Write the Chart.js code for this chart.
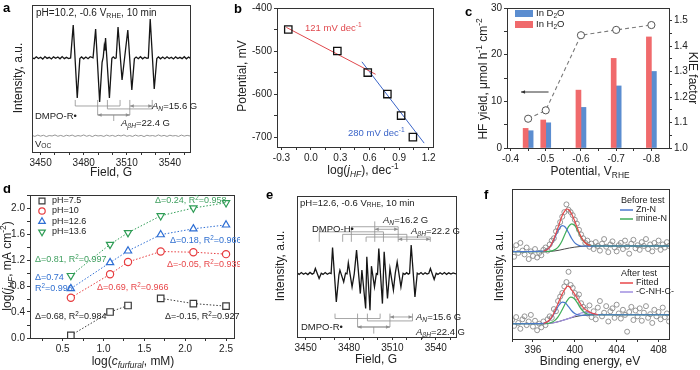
<!DOCTYPE html>
<html>
<head>
<meta charset="utf-8">
<script src="https://cdn.jsdelivr.net/npm/chart.js@4.4.1/dist/chart.umd.min.js"></script>
<style>
  html, body { margin: 0; padding: 0; background: #fff; }
  #fig { position: relative; width: 700px; height: 370px; overflow: hidden; }
  canvas { position: absolute; }
</style>
</head>
<body>
<div id="fig"></div>
<script>
// ---- panel a: EPR, pH 10.2 ----
const specA = [[3444,64.3],[3445.5,63.4],[3447,64.8],[3448.5,63.6],[3450,64.5],[3451.5,63.2],[3453,64.9],[3454.5,63.7],[3456,64.4],[3457.5,63.3],[3459,64.7],[3460.5,63.8],[3462,64.6],[3463.5,63.4],[3465,64.9],[3466.5,63.5],[3468,64.4],[3469.5,63.6],[3470.9,64],
  [3472.7,86.4],[3475.5,36.7],[3477.3,63.5],
  [3478.5,64.7],[3480,63.4],[3481.5,64.6],[3483,63.5],[3484.5,64.8],[3486.5,64],
  [3488.3,83.7],[3491.1,34],[3492.8,61],[3493.6,64.5],[3494.3,72],[3494.8,69],[3495.2,77.6],[3497.9,36.7],[3499.6,63.8],
  [3500.6,64.7],[3501.8,63.6],[3502.6,64],
  [3503.9,85],[3506.7,49],[3510.7,83],[3513.5,42.2],[3515.3,63.6],
  [3516.5,64.6],[3518,63.5],[3519.5,64.8],[3521,63.4],[3522.5,64.5],[3524,63.7],[3525,64],
  [3526.3,90.5],[3529.1,42.9],[3530.9,63.6],
  [3532,64.7],[3533.5,63.4],[3535,64.6],[3536.5,63.5],[3538,64.8],[3539.5,63.6],[3541,64.5],[3542.5,63.3],[3544,64.7],[3545.5,63.6],[3547,64.4],[3548.5,63.5],[3550,64.8],[3551.5,63.4],[3553,64.6],[3554,63.8]];
const vocA = [[3444,11.3],[3446,10.6],[3448,11.5],[3450,10.8],[3452,11.4],[3454,10.5],[3456,11.2],[3458,10.9],[3460,11.6],[3462,10.7],[3464,11.3],[3466,10.6],[3468,11.4],[3470,10.9],[3472,11.5],[3474,10.6],[3476,11.2],[3478,10.8],[3480,11.6],[3482,10.7],[3484,11.3],[3486,10.5],[3488,11.4],[3490,10.9],[3492,11.2],[3494,10.6],[3496,11.5],[3498,10.8],[3500,11.3],[3502,10.6],[3504,11.4],[3506,10.9],[3508,11.6],[3510,10.7],[3512,11.2],[3514,10.6],[3516,11.5],[3518,10.8],[3520,11.3],[3522,10.5],[3524,11.4],[3526,10.9],[3528,11.2],[3530,10.7],[3532,11.6],[3534,10.8],[3536,11.3],[3538,10.6],[3540,11.4],[3542,10.9],[3544,11.2],[3546,10.6],[3548,11.5],[3550,10.8],[3552,11.3],[3554,10.9]];
const hfsA = { c: 3500.9, aN: 15.6, aH: 22.4 };

// ---- panel b: Tafel ----
const bLogJ = [-0.23, 0.27, 0.58, 0.78, 0.92, 1.04];
const bPot = [-450, -500, -550, -600, -650, -700];
const bFitLowX = [-0.25, 0.66], bFitLowY = [-445, -554];
const bFitHighX = [0.52, 1.155], bFitHighY = [-525, -714];

// ---- panel c: KIE ----
const cPot = [-0.45, -0.5, -0.6, -0.7, -0.8];
const cH2O = [4.2, 6.0, 12.4, 19.2, 23.8];
const cD2O = [3.7, 5.4, 8.7, 13.3, 16.4];
const cKIE = [1.115, 1.148, 1.443, 1.464, 1.483];

// ---- panel d: reaction order ----
const dLogC = [0.6, 1.08, 1.3, 1.7, 2.1, 2.5];
const dPH75 = [0.04, 0.40, 0.50, 0.61, 0.53, 0.49];
const dPH10 = [0.62, 0.98, 1.17, 1.33, 1.32, 1.29];
const dPH126 = [0.76, 1.16, 1.34, 1.59, 1.68, 1.74];
const dPH136 = [0.96, 1.44, 1.62, 1.88, 2.00, 2.08];
const dLabels = ['pH=7.5', 'pH=10', 'pH=12.6', 'pH=13.6'];

// ---- panel e: EPR, pH 12.6 ----
const specE = [[3444,45.5],[3445.5,44.4],[3447,45.7],[3448.5,44.5],[3450,45.4],[3451.5,44.3],[3453,45.8],[3454.5,44.6],[3455.6,45.2],
  [3456.7,48.6],[3459.3,41.5],[3460.8,45.2],
  [3462,44.4],[3463.5,45.7],[3465,44.5],[3466.5,45.4],[3467.6,45],
  [3468.6,63.5],[3471.2,24.9],[3473,44],
  [3473.7,47.4],[3476.3,39.1],[3477.6,45.3],[3478.6,44.8],
  [3479.5,52.6],[3482.1,35.5],[3483.6,44.8],
  [3485.2,61.6],[3487.8,30.8],
  [3488.9,47.4],[3491.5,20.2],
  [3492.3,56.9],[3494.5,19],
  [3495.5,50.2],[3497.6,35.5],[3498.9,45],[3499.7,44.5],
  [3500.6,62.8],[3503.1,23.7],
  [3504.3,60.4],[3506.6,27.3],
  [3508.3,48.6],[3510.7,33.2],[3512,45.3],
  [3513.3,53.3],[3515.9,35.5],[3517.4,45.2],
  [3518.6,44.4],[3519.8,45.6],[3521,44.6],[3521.9,45.2],
  [3523,65.2],[3525.6,28.4],[3527.2,45.3],
  [3528.4,44.5],[3529.8,45.7],[3531.2,44.4],[3532.6,45.6],[3534,44.6],[3535.2,45.2],
  [3536.3,48.6],[3538.9,40.8],[3540.3,45.2],
  [3541.5,44.4],[3543,45.6],[3544.5,44.5],[3546,45.7],[3547.5,44.4],[3549,45.5],[3550.5,44.6],[3552,45.4],[3554,44.7]];
const hfsER = { c: 3497.1, aN: 15.6, aH: 22.4 };
const hfsEH = { c: 3497.8, aN: 16.2, aH: 22.2 };

// ---- panel f: N 1s XPS ----
const fBE = [394.0,394.2,394.4,394.6,394.8,395.0,395.2,395.4,395.6,395.8,396.0,396.2,396.4,396.6,396.8,397.0,397.2,397.4,397.6,397.8,398.0,398.2,398.4,398.6,398.8,399.0,399.2,399.4,399.6,399.8,400.0,400.2,400.4,400.6,400.8,401.0,401.2,401.4,401.6,401.8,402.0,402.2,402.4,402.6,402.8,403.0,403.2,403.4,403.6,403.8,404.0,404.2,404.4,404.6,404.8,405.0,405.2,405.4,405.6,405.8,406.0,406.2,406.4,406.6,406.8,407.0,407.2,407.4,407.6,407.8,408.0,408.2,408.4,408.6,408.8,409.0];
const fBefore = [22,12,27,17,30,20,15,24,9,19,13,22,11,17,14,21,24,20,28,33,36,45,50,57,64,70,80,73,70,66,60,55,47,41,36,30,33,25,29,22,31,26,20,29,35,25,18,28,32,24,19,27,30,22,33,25,16,29,34,23,27,21,31,26,35,22,28,19,30,25,33,21,28,24,31,26];
const fAfter = [26,18,30,22,14,27,31,19,24,33,17,25,12,21,16,24,19,27,31,29,41,38,52,58,63,72,78,92,74,70,63,57,61,49,44,40,35,46,30,38,27,43,52,31,36,45,24,38,42,29,47,35,28,40,33,10,37,44,26,39,31,42,25,36,45,29,34,22,40,31,37,27,43,30,35,24];
const fBgTop = [[394,18.6],[397,18.6],[397.5,18.8],[398,19.4],[398.5,20.5],[399,22],[399.5,23.4],[400,24.5],[400.5,25.3],[401,25.8],[401.5,26],[402,26],[409,26]];
const fZnTop = [[394,18.6],[397,19.2],[397.3,20.8],[397.6,24.3],[397.9,30.9],[398.2,40],[398.5,48.4],[398.8,52.4],[399.1,50.3],[399.4,43.4],[399.7,35.7],[400,30.1],[400.3,27.2],[400.6,26],[401,25.8],[402,26],[409,26]];
const fImTop = [[394,18.6],[397.6,19],[397.9,20.1],[398.2,22],[398.5,26.1],[398.8,33.2],[399.1,42.5],[399.4,51.1],[399.7,54.8],[400,52.4],[400.3,45.1],[400.6,37.2],[400.9,31.3],[401.2,28.1],[401.5,26.6],[402,26],[409,26]];
const fFitTop = [[397,19.3],[397.3,20.9],[397.6,24.6],[397.9,31.9],[398.2,42.2],[398.5,54],[398.8,65.5],[399.1,72.6],[399.25,74],[399.4,73.4],[399.7,67.5],[400,58],[400.3,47.3],[400.6,37.8],[400.9,31.5],[401.2,28.1],[401.5,26.6]];
const fBgBot = [[394,20.9],[397,20.9],[397.5,21.2],[398,22.3],[398.5,24],[399,26.2],[399.5,28.5],[400,30.4],[400.5,31.8],[401,32.7],[401.5,33.1],[402,33.2],[409,33.2]];
const fZnBot = [[394,20.9],[397,21.4],[397.3,22.8],[397.6,26],[397.9,31.6],[398.2,39.3],[398.5,46.7],[398.8,50.5],[399.1,49.3],[399.4,44.3],[399.7,38.7],[400,34.9],[400.3,33.1],[400.6,32.5],[401,32.7],[402,33.2],[409,33.2]];
const fImBot = [[394,20.9],[397.5,21.5],[397.8,22.9],[398.1,25.5],[398.4,30.2],[398.7,37.6],[399,45.9],[399.3,53.4],[399.6,57.3],[399.9,55.9],[400.2,50.6],[400.5,43.2],[400.8,37.8],[401.1,34.8],[401.4,33.6],[401.8,33.2],[409,33.2]];
const fCnhBot = [[394,20.9],[397,20.9],[398,22.3],[399,26.2],[399.6,29],[400,31.7],[400.3,33.8],[400.6,35.6],[400.9,36.6],[401.2,36.5],[401.5,35.6],[401.8,34.5],[402.2,33.5],[402.6,33.2],[409,33.2]];
const fFitBot = [[397,21.6],[397.3,22.9],[397.6,26.4],[397.9,32.6],[398.2,41.8],[398.5,52],[398.8,61.7],[399.1,68.9],[399.3,72.5],[399.5,71.5],[399.7,67.1],[400,61.2],[400.3,54.1],[400.6,46.9],[400.9,41.7],[401.2,38.6],[401.5,36.3],[401.8,34.7],[402.2,33.5]];

// tick positions (labelled ones listed separately)
const fieldTicks = [3450,3460,3470,3480,3490,3500,3510,3520,3530,3540,3550];
const fieldLabels = [3450, 3480, 3510, 3540];
const bXTicks = [-0.3,-0.15,0,0.15,0.3,0.45,0.6,0.75,0.9,1.05,1.2];
const bXLabels = [-0.3, 0, 0.3, 0.6, 0.9, 1.2];
const bYTicks = [-700,-650,-600,-550,-500,-450,-400];
const bYLabels = [-700, -600, -500, -400];
const cXTicks = [-0.4,-0.45,-0.5,-0.55,-0.6,-0.65,-0.7,-0.75,-0.8];
const cXLabels = [-0.4, -0.5, -0.6, -0.7, -0.8];
const cYTicks = [0,5,10,15,20,25,30];
const cYLabels = [0, 10, 20, 30];
const cKTicks = [1.0,1.05,1.1,1.15,1.2,1.25,1.3,1.35,1.4,1.45,1.5];
const cKLabels = [1.0, 1.1, 1.2, 1.3, 1.4, 1.5];
const dXTicks = [0.25,0.5,0.75,1.0,1.25,1.5,1.75,2.0,2.25,2.5];
const dXLabels = [0.5, 1.0, 1.5, 2.0, 2.5];
const dYTicks = [0,0.2,0.4,0.6,0.8,1.0,1.2,1.4,1.6,1.8,2.0,2.2];
const dYLabels = [0, 0.4, 0.8, 1.2, 1.6, 2.0];
const fXTicks = [394,396,398,400,402,404,406,408];
const fXLabels = [396, 400, 404, 408];

const FONT = '"Liberation Sans", Arial, Helvetica, sans-serif';
Chart.defaults.font.family = FONT;
Chart.defaults.font.size = 10;
Chart.defaults.color = '#222';
Chart.defaults.animation = false;

// text with *italic*, _{sub} and ^{sup}
function parseRich(s) {
  const out = []; let it = false, mode = 'n', buf = '';
  const push = () => { if (buf) { out.push({ t: buf, i: it, m: mode }); buf = ''; } };
  for (let k = 0; k < s.length; k++) {
    const ch = s[k];
    if (ch === '*') { push(); it = !it; }
    else if ((ch === '_' || ch === '^') && s[k + 1] === '{') { push(); mode = ch === '_' ? 'sub' : 'sup'; k++; }
    else if (ch === '}' && mode !== 'n') { push(); mode = 'n'; }
    else buf += ch;
  }
  push();
  return out;
}
function rich(ctx, s, x, y, o = {}) {
  const size = o.size || 9, segs = parseRich(s);
  const fontOf = g => `${g.i ? 'italic ' : ''}${o.bold ? 'bold ' : ''}${g.m === 'n' ? size : size * 0.7}px ${FONT}`;
  let w = 0;
  segs.forEach(g => { ctx.font = fontOf(g); g.w = ctx.measureText(g.t).width; w += g.w; });
  ctx.save();
  ctx.translate(x, y);
  if (o.rot) ctx.rotate(o.rot);
  ctx.fillStyle = o.color || '#222';
  ctx.textBaseline = 'middle';
  ctx.textAlign = 'left';
  let cx = o.align === 'center' ? -w / 2 : o.align === 'right' ? -w : 0;
  segs.forEach(g => {
    ctx.font = fontOf(g);
    ctx.fillText(g.t, cx, g.m === 'sub' ? size * 0.28 : g.m === 'sup' ? -size * 0.32 : 0);
    cx += g.w;
  });
  ctx.restore();
}

const xy = (xs, ys) => xs.map((x, i) => ({ x, y: ys[i] }));
const pts = arr => arr.map(([x, y]) => ({ x, y }));

function axis(min, max, values, labels, fmt, extra) {
  return Object.assign({
    type: 'linear', min, max,
    afterBuildTicks: s => { s.ticks = values.map(v => ({ value: v })); },
    ticks: {
      autoSkip: false, maxRotation: 0, padding: 2, font: { size: 10 }, color: '#222',
      callback: v => labels.some(m => Math.abs(m - v) < 1e-9) ? fmt(v) : ''
    },
    grid: { drawOnChartArea: false, drawTicks: true, tickLength: 3, color: '#333', tickColor: '#333', offset: false },
    border: { display: false }
  }, extra || {});
}
function blank(min, max, extra) {
  return Object.assign({ type: 'linear', min, max, ticks: { display: false }, grid: { display: false }, border: { display: false } }, extra || {});
}

// one canvas per panel; plot box fixed in page pixels
function mk(rect, box, cfg, deco) {
  const [rx, ry, rw, rh] = rect;
  const cv = document.createElement('canvas');
  cv.width = rw; cv.height = rh;
  cv.style.left = rx + 'px'; cv.style.top = ry + 'px';
  cv.style.width = rw + 'px'; cv.style.height = rh + 'px';
  document.getElementById('fig').appendChild(cv);
  const o = cfg.options = cfg.options || {};
  o.responsive = false; o.devicePixelRatio = 1; o.animation = false;
  o.plugins = { legend: { display: false }, tooltip: { enabled: false } };
  const padB = box.padB || 0;
  o.layout = { padding: { left: 0, top: box.t - ry, right: box.rightAxis ? 0 : rx + rw - box.r, bottom: padB } };
  for (const [id, sc] of Object.entries(o.scales)) {
    const pos = sc.position || (id[0] === 'x' ? 'bottom' : 'left');
    if (pos === 'bottom') sc.afterFit = s => { s.height = ry + rh - padB - box.b; };
    else if (pos === 'left') sc.afterFit = s => { s.width = box.l - rx; };
    else sc.afterFit = s => { s.width = rx + rw - box.r; };
  }
  const T = (ctx, s, px, py, opt) => rich(ctx, s, px - rx, py - ry, opt);
  cfg.plugins = [{
    id: 'frame',
    afterDraw(chart) {
      const { ctx, chartArea: a } = chart;
      ctx.save();
      ctx.strokeStyle = '#333'; ctx.lineWidth = 1;
      ctx.strokeRect(Math.round(a.left) + 0.5, Math.round(a.top) + 0.5, Math.round(a.right - a.left), Math.round(a.bottom - a.top));
      ctx.restore();
      if (deco) { ctx.save(); deco(chart, ctx, T); ctx.restore(); }
    }
  }];
  return new Chart(cv, cfg);
}

// drawing helpers in data coordinates
function seg(chart, ctx, x1, y1, x2, y2, yId) {
  const xs = chart.scales.x, ys = chart.scales[yId || 'y'];
  ctx.beginPath();
  ctx.moveTo(xs.getPixelForValue(x1), ys.getPixelForValue(y1));
  ctx.lineTo(xs.getPixelForValue(x2), ys.getPixelForValue(y2));
  ctx.stroke();
}
function head(ctx, x, y, d) {
  ctx.beginPath(); ctx.moveTo(x, y); ctx.lineTo(x + d * 4, y - 1.8); ctx.lineTo(x + d * 4, y + 1.8); ctx.closePath(); ctx.fill();
}
function hArrow(chart, ctx, x1, x2, y, yId, both = true) {
  const xs = chart.scales.x, ys = chart.scales[yId || 'y'];
  const p1 = xs.getPixelForValue(x1), p2 = xs.getPixelForValue(x2), py = ys.getPixelForValue(y);
  ctx.beginPath(); ctx.moveTo(p1, py); ctx.lineTo(p2, py); ctx.stroke();
  const d = p2 > p1 ? 1 : -1;
  head(ctx, p1, py, d);
  if (both) head(ctx, p2, py, -d);
}
// radical adduct: AH doublet, each split into AN triplet
function rTree(h, l0, l1, l1b, l2, l3) {
  const A = h.c - h.aH / 2, B = h.c + h.aH / 2, s = [];
  [A - h.aN, A, A + h.aN].forEach(x => s.push([x, l0, x, l1]));
  [B - h.aN, B, B + h.aN].forEach(x => s.push([x, l0, x, l1b]));
  s.push([A - h.aN, l1, A + h.aN, l1], [B - h.aN, l1b, B + h.aN, l1b],
         [A, l1, A, l2], [B, l1b, B, l2], [A, l2, B, l2], [h.c, l2, h.c, l3]);
  return s;
}
// H adduct: AN triplet, each split by two equivalent H
function hTree(h, v0, v1, lv, v3) {
  const s = [[h.c, v0, h.c, v1], [h.c - h.aN, v1, h.c + h.aN, v1]];
  [h.c - h.aN, h.c, h.c + h.aN].forEach((g, i) => {
    const L = lv[i];
    s.push([g, v1, g, L], [g - h.aH, L, g + h.aH, L]);
    [g - h.aH, g, g + h.aH].forEach(x => s.push([x, L, x, v3]));
  });
  return s;
}
const GREY = '#8f8f8f';

// ---------- a ----------
mk([0, 0, 232, 185], { l: 32, t: 5, r: 190, b: 152 }, {
  type: 'line',
  data: { datasets: [
    { data: pts(specA), borderColor: '#161616', borderWidth: 1.3, pointRadius: 0 },
    { data: pts(vocA), borderColor: '#8a8a8a', borderWidth: 0.9, pointRadius: 0 }
  ] },
  options: { scales: { x: axis(3444, 3554, fieldTicks, fieldLabels, v => String(v)), y: blank(0, 100) } }
}, (chart, ctx, T) => {
  ctx.strokeStyle = GREY; ctx.fillStyle = GREY; ctx.lineWidth = 0.8;
  rTree(hfsA, 35.4, 31.3, 29.3, 25.2, 21.1).forEach(s => seg(chart, ctx, ...s));
  hArrow(chart, ctx, hfsA.c + hfsA.aH / 2, hfsA.c + hfsA.aH / 2 + hfsA.aN, 31.3);
  hArrow(chart, ctx, hfsA.c - hfsA.aH / 2, hfsA.c + hfsA.aH / 2, 25.2);
  T(ctx, 'pH=10.2, -0.6 V_{RHE}, 10 min', 36, 13, { size: 10 });
  T(ctx, 'DMPO-R•', 35, 116, { size: 9.5 });
  T(ctx, '*A*_{*N*}=15.6 G', 152, 106, { size: 9.5 });
  T(ctx, '*A*_{*βH*}=22.4 G', 121, 123, { size: 9.5 });
  T(ctx, 'V_{OC}', 35, 144, { size: 9.5 });
  T(ctx, 'Intensity, a.u.', 19, 78, { size: 12, rot: -Math.PI / 2, align: 'center' });
  T(ctx, 'Field, G', 111, 173, { size: 12, align: 'center' });
  T(ctx, 'a', 3, 8, { size: 13, bold: true, color: '#000' });
});

// ---------- b ----------
mk([232, 0, 232, 185], { l: 277, t: 5, r: 433, b: 147 }, {
  type: 'scatter',
  data: { datasets: [
    { data: xy(bLogJ, bPot), pointStyle: 'rect', pointRadius: 5.2, pointBorderColor: '#111', pointBorderWidth: 1.3, pointBackgroundColor: 'rgba(0,0,0,0)' },
    { data: xy(bFitLowX, bFitLowY), showLine: true, borderColor: '#e0484d', borderWidth: 1, pointRadius: 0 },
    { data: xy(bFitHighX, bFitHighY), showLine: true, borderColor: '#3a64c8', borderWidth: 1, pointRadius: 0 }
  ] },
  options: { scales: {
    x: axis(-0.345, 1.245, bXTicks, bXLabels, v => v.toFixed(1)),
    y: axis(-723, -400, bYTicks, bYLabels, v => String(v))
  } }
}, (chart, ctx, T) => {
  T(ctx, '121 mV dec^{-1}', 305, 28, { size: 9.5, color: '#e0484d' });
  T(ctx, '280 mV dec^{-1}', 348, 133, { size: 9.5, color: '#3a64c8' });
  T(ctx, 'Potential, mV', 243, 76, { size: 12, rot: -Math.PI / 2, align: 'center' });
  T(ctx, 'log(*j*_{*HF*}), dec^{-1}', 363, 171, { size: 12, align: 'center' });
  T(ctx, 'b', 234, 9, { size: 13, bold: true, color: '#000' });
});

// ---------- c ----------
mk([464, 0, 236, 185], { l: 507, t: 5, r: 669, b: 148, rightAxis: true }, {
  type: 'bar',
  data: { datasets: [
    { type: 'line', data: xy(cPot, cKIE), yAxisID: 'y2', borderColor: '#7a7a7a', borderDash: [4, 3], borderWidth: 1.1,
      pointRadius: 3.6, pointBackgroundColor: '#fff', pointBorderColor: '#555', pointBorderWidth: 1, order: 0 },
    { data: xy(cPot, cH2O), backgroundColor: '#f06a6c', barThickness: 5, order: 1 },
    { data: xy(cPot, cD2O), backgroundColor: '#5b8dd0', barThickness: 5, order: 1 }
  ] },
  options: { scales: {
    x: axis(-0.85, -0.39, cXTicks, cXLabels, v => v.toFixed(1), { reverse: true, offset: false }),
    y: axis(0, 30, cYTicks, cYLabels, v => String(v), { position: 'left' }),
    y2: axis(1.0, 1.55, cKTicks, cKLabels, v => v.toFixed(1), { position: 'right' })
  } }
}, (chart, ctx, T) => {
  ctx.strokeStyle = '#333'; ctx.fillStyle = '#333'; ctx.lineWidth = 1;
  hArrow(chart, ctx, -0.43, -0.508, 12, 'y', false);
  ctx.fillStyle = '#5b8dd0'; ctx.fillRect(515 - 464, 10, 18, 7);
  ctx.fillStyle = '#f06a6c'; ctx.fillRect(515 - 464, 21, 18, 7);
  T(ctx, 'In D_{2}O', 536, 13.5, { size: 9.5 });
  T(ctx, 'In H_{2}O', 536, 24.5, { size: 9.5 });
  T(ctx, 'HF yield, μmol h^{-1} cm^{-2}', 484, 79, { size: 12, rot: -Math.PI / 2, align: 'center' });
  T(ctx, 'KIE factor', 692, 78, { size: 12, rot: Math.PI / 2, align: 'center' });
  T(ctx, 'Potential, V_{RHE}', 590, 172, { size: 12, align: 'center' });
  T(ctx, 'c', 465, 12, { size: 13, bold: true, color: '#000' });
});

// ---------- d ----------
const dCol = ['#3a3a3a', '#e63b3e', '#2f6fd4', '#2e9c55'];
const dMark = [['rect', 0, 4.6], ['circle', 0, 3.6], ['triangle', 0, 4.2], ['triangle', 180, 4.2]];
const dStyle = i => ({ borderColor: dCol[i], pointBorderColor: dCol[i], pointBackgroundColor: '#fff', pointStyle: dMark[i][0],
  rotation: dMark[i][1], pointRadius: dMark[i][2], pointBorderWidth: 1.2, borderWidth: 1, borderDash: [1.5, 1.8], showLine: true });
mk([0, 185, 240, 185], { l: 30, t: 195, r: 236, b: 338 }, {
  type: 'scatter',
  data: { datasets: [
    Object.assign({ data: xy(dLogC, dPH75), segment: { borderColor: c => c.p0DataIndex === 2 ? 'rgba(0,0,0,0)' : undefined } }, dStyle(0)),
    Object.assign({ data: xy(dLogC, dPH10) }, dStyle(1)),
    Object.assign({ data: xy(dLogC, dPH126) }, dStyle(2)),
    Object.assign({ data: xy(dLogC, dPH136) }, dStyle(3))
  ] },
  options: { scales: {
    x: axis(0.1, 2.6, dXTicks, dXLabels, v => v.toFixed(1)),
    y: axis(0, 2.2, dYTicks, dYLabels, v => v.toFixed(1))
  } }
}, (chart, ctx, T) => {
  const rows = [201, 211, 221.5, 232];
  dLabels.forEach((lab, i) => {
    ctx.strokeStyle = dCol[i]; ctx.fillStyle = '#fff'; ctx.lineWidth = 1.2;
    Chart.helpers.drawPoint(ctx, { pointStyle: dMark[i][0], rotation: dMark[i][1], radius: dMark[i][2] - 0.4, borderWidth: 1.2 }, 42, rows[i] - 185);
    T(ctx, lab, 52, rows[i], { size: 9 });
  });
  T(ctx, 'Δ=0.81, R^{2}=0.997', 35, 260, { color: '#3f9f5f' });
  T(ctx, 'Δ=0.24, R^{2}=0.958', 155, 201, { color: '#3f9f5f' });
  T(ctx, 'Δ=0.74', 35, 278, { color: '#2f6fd0' });
  T(ctx, 'R^{2}=0.996', 35, 289, { color: '#2f6fd0' });
  T(ctx, 'Δ=0.18, R^{2}=0.966', 170, 241, { color: '#2f6fd0' });
  T(ctx, 'Δ=0.69, R^{2}=0.966', 97, 288, { color: '#e8474a' });
  T(ctx, 'Δ=-0.05, R^{2}=0.939', 167, 265, { color: '#e8474a' });
  T(ctx, 'Δ=0.68, R^{2}=0.984', 35, 317);
  T(ctx, 'Δ=-0.15, R^{2}=0.927', 165, 317);
  T(ctx, 'log(*j*_{*HF*}, mA cm^{-2})', 8, 266, { size: 12, rot: -Math.PI / 2, align: 'center' });
  T(ctx, 'log(*c*_{*furfural*}, mM)', 133, 362, { size: 12, align: 'center' });
  T(ctx, 'd', 3, 189, { size: 13, bold: true, color: '#000' });
});

// ---------- e ----------
mk([240, 185, 226, 185], { l: 297, t: 196, r: 456, b: 337 }, {
  type: 'line',
  data: { datasets: [
    { data: pts(specE), borderColor: '#161616', borderWidth: 1.3, pointRadius: 0 }
  ] },
  options: { scales: { x: axis(3444, 3554, fieldTicks, fieldLabels, v => String(v)), y: blank(0, 100) } }
}, (chart, ctx, T) => {
  ctx.strokeStyle = GREY; ctx.fillStyle = GREY; ctx.lineWidth = 0.8;
  hTree(hfsEH, 82, 78.2, [74.6, 72.8, 70.9], 67.5).forEach(s => seg(chart, ctx, ...s));
  hArrow(chart, ctx, hfsEH.c, hfsEH.c + hfsEH.aN, 76.4);
  hArrow(chart, ctx, hfsEH.c + hfsEH.aN, hfsEH.c + hfsEH.aN + hfsEH.aH, 69.3);
  rTree(hfsER, 16.6, 13.1, 11.4, 7.1, 2.4).forEach(s => seg(chart, ctx, ...s));
  hArrow(chart, ctx, hfsER.c + hfsER.aH / 2, hfsER.c + hfsER.aH / 2 + hfsER.aN, 14.2);
  hArrow(chart, ctx, hfsER.c - hfsER.aH / 2, hfsER.c + hfsER.aH / 2, 7.1);
  T(ctx, 'pH=12.6, -0.6 V_{RHE}, 10 min', 300, 203, { size: 9.5 });
  T(ctx, 'DMPO-H•', 312, 229, { size: 9.5 });
  T(ctx, '*A*_{*N*}=16.2 G', 383, 220, { size: 9.5 });
  T(ctx, '*A*_{*βH*}=22.2 G', 411, 231, { size: 9.5 });
  T(ctx, '*A*_{*N*}=15.6 G', 416, 317, { size: 9.5 });
  T(ctx, '*A*_{*βH*}=22.4 G', 416, 332, { size: 9.5 });
  T(ctx, 'DMPO-R•', 301, 327, { size: 9.5 });
  T(ctx, 'Intensity, a.u.', 281, 266, { size: 12, rot: -Math.PI / 2, align: 'center' });
  T(ctx, 'Field, G', 376, 360, { size: 12, align: 'center' });
  T(ctx, 'e', 266, 195, { size: 13, bold: true, color: '#000' });
});

// ---------- f (two stacked plots) ----------
const fCirc = { pointStyle: 'circle', pointRadius: 2.5, pointBorderColor: '#8a8a8a', pointBorderWidth: 0.9, pointBackgroundColor: 'rgba(0,0,0,0)' };
const curve = (arr, c, w) => ({ data: pts(arr), showLine: true, borderColor: c, borderWidth: w || 1.2, pointRadius: 0, cubicInterpolationMode: 'monotone' });
mk([466, 180, 234, 190], { l: 512, t: 189, r: 669, b: 266, padB: 100 }, {
  type: 'scatter',
  data: { datasets: [
    curve(fFitTop, '#e8474a'), curve(fZnTop, '#4a78cc'), curve(fImTop, '#3fae5a'), curve(fBgTop, '#4a4a4a', 1),
    Object.assign({ data: xy(fBE, fBefore) }, fCirc)
  ] },
  options: { scales: {
    x: axis(394, 409, fXTicks, [], v => '', { grid: { drawOnChartArea: false, drawTicks: false } }),
    y: blank(0, 100)
  } }
}, (chart, ctx, T) => {
  T(ctx, 'Before test', 621, 201, { size: 9 });
  ctx.lineWidth = 1.5;
  ctx.strokeStyle = '#4a78cc'; ctx.beginPath(); ctx.moveTo(620 - 466, 210 - 180); ctx.lineTo(633 - 466, 210 - 180); ctx.stroke();
  ctx.strokeStyle = '#3fae5a'; ctx.beginPath(); ctx.moveTo(620 - 466, 219 - 180); ctx.lineTo(633 - 466, 219 - 180); ctx.stroke();
  T(ctx, 'Zn-N', 636, 210, { size: 9 });
  T(ctx, 'imine-N', 636, 219, { size: 9 });
});
mk([466, 180, 234, 190], { l: 512, t: 266, r: 669, b: 339 }, {
  type: 'scatter',
  data: { datasets: [
    curve(fFitBot, '#e8474a'), curve(fZnBot, '#4a78cc'), curve(fImBot, '#3fae5a'), curve(fCnhBot, '#a08fe0'), curve(fBgBot, '#4a4a4a', 1),
    Object.assign({ data: xy(fBE, fAfter) }, fCirc)
  ] },
  options: { scales: {
    x: axis(394, 409, fXTicks, fXLabels, v => String(v)),
    y: blank(0, 100)
  } }
}, (chart, ctx, T) => {
  T(ctx, 'After test', 621, 274, { size: 9 });
  ctx.lineWidth = 1.5;
  ctx.strokeStyle = '#e8474a'; ctx.beginPath(); ctx.moveTo(620 - 466, 283 - 180); ctx.lineTo(633 - 466, 283 - 180); ctx.stroke();
  ctx.strokeStyle = '#a08fe0'; ctx.beginPath(); ctx.moveTo(620 - 466, 292 - 180); ctx.lineTo(633 - 466, 292 - 180); ctx.stroke();
  T(ctx, 'Fitted', 636, 283, { size: 9 });
  T(ctx, '-C-NH-C-', 636, 292, { size: 9 });
  T(ctx, 'Intensity, a.u.', 500, 266, { size: 12, rot: -Math.PI / 2, align: 'center' });
  T(ctx, 'Binding energy, eV', 590, 362, { size: 12, align: 'center' });
  T(ctx, 'f', 484, 195, { size: 13, bold: true, color: '#000' });
});
</script>
</body>
</html>
